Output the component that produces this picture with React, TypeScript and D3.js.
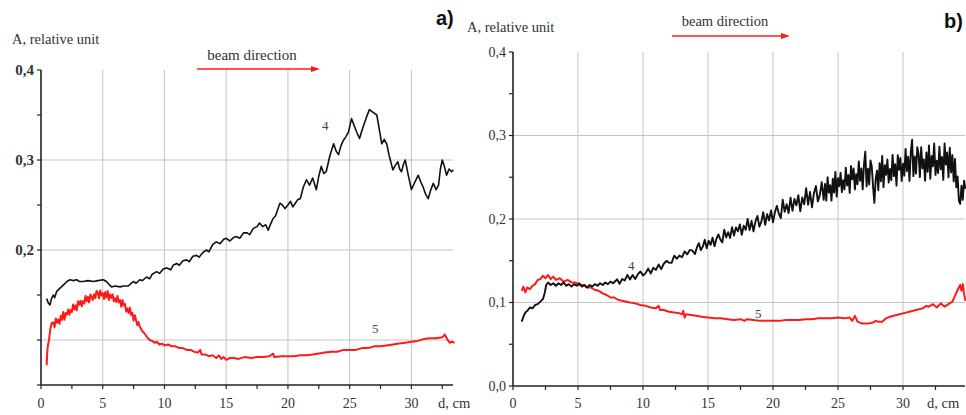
import React from 'react';
import * as d3 from 'd3';

// ---------- data ----------
const X_TICK_VALUES = [0, 5, 10, 15, 20, 25, 30];
const X_TICK_LABELS = ['0', '5', '10', '15', '20', '25', '30'];
const X_GRID = [5, 10, 15, 20, 25, 30];
const Y_GRID = [0.1, 0.2, 0.3];

const A_Y_TICK_VALUES = [0.4, 0.3, 0.2];
const A_Y_TICK_LABELS = ['0,4', '0,3', '0,2'];
const B_Y_TICK_VALUES = [0.4, 0.3, 0.2, 0.1, 0.0];
const B_Y_TICK_LABELS = ['0,4', '0,3', '0,2', '0,1', '0,0'];

// panel a) curve 4 (black)
const A4: [number, number][] = [
  [0.46, 0.146], [0.6, 0.141], [0.73, 0.139], [0.85, 0.146], [1.0, 0.150], [1.1, 0.147], [1.27, 0.154],
  [1.5, 0.157], [1.8, 0.161], [2.1, 0.165], [2.35, 0.167], [2.6, 0.166], [2.89, 0.167], [3.1, 0.165],
  [3.43, 0.165], [3.8, 0.166], [4.24, 0.165], [4.6, 0.166], [5.05, 0.167], [5.3, 0.165], [5.5, 0.162],
  [5.72, 0.159], [6.0, 0.160], [6.4, 0.159], [6.7, 0.160], [7.07, 0.160], [7.3, 0.163], [7.47, 0.165],
  [7.7, 0.163], [8.0, 0.167], [8.2, 0.166], [8.56, 0.170], [8.8, 0.168], [9.0, 0.173], [9.37, 0.176],
  [9.6, 0.174], [9.9, 0.179], [10.2, 0.180], [10.5, 0.178], [10.7, 0.183], [11.0, 0.185], [11.2, 0.183],
  [11.5, 0.188], [11.8, 0.189], [12.0, 0.187], [12.3, 0.193], [12.6, 0.194], [12.8, 0.192], [13.1, 0.197],
  [13.4, 0.200], [13.6, 0.198], [13.9, 0.206], [14.2, 0.209], [14.5, 0.207], [14.8, 0.212], [15.0, 0.213],
  [15.3, 0.210], [15.6, 0.214], [15.8, 0.215], [16.1, 0.213], [16.4, 0.219], [16.7, 0.219], [16.9, 0.217],
  [17.2, 0.224], [17.5, 0.226], [17.7, 0.230], [17.95, 0.226], [18.2, 0.228], [18.4, 0.222], [18.6, 0.229],
  [18.8, 0.235], [19.0, 0.238], [19.35, 0.252], [19.55, 0.250], [19.76, 0.246], [20.0, 0.250], [20.2, 0.254],
  [20.4, 0.248], [20.6, 0.252], [20.8, 0.256], [21.0, 0.257], [21.25, 0.270], [21.5, 0.278], [21.75, 0.272],
  [22.0, 0.280], [22.3, 0.267], [22.5, 0.282], [22.7, 0.293], [22.9, 0.285], [23.1, 0.287], [23.4, 0.305],
  [23.7, 0.318], [23.9, 0.310], [24.1, 0.306], [24.3, 0.316], [24.5, 0.322], [24.7, 0.326], [24.9, 0.331],
  [25.15, 0.346], [25.4, 0.337], [25.6, 0.330], [25.8, 0.324], [26.0, 0.333], [26.2, 0.341], [26.4, 0.349],
  [26.6, 0.356], [26.9, 0.353], [27.2, 0.350], [27.4, 0.334], [27.6, 0.318], [27.8, 0.323], [28.0, 0.318],
  [28.2, 0.305], [28.5, 0.289], [28.7, 0.294], [28.9, 0.298], [29.05, 0.290], [29.2, 0.287], [29.35, 0.295],
  [29.5, 0.300], [29.75, 0.283], [30.0, 0.267], [30.3, 0.276], [30.55, 0.283], [30.75, 0.276], [30.95, 0.270],
  [31.15, 0.262], [31.36, 0.257], [31.55, 0.266], [31.77, 0.274], [32.0, 0.267], [32.2, 0.272], [32.35, 0.290],
  [32.5, 0.300], [32.65, 0.294], [32.85, 0.283], [33.05, 0.290], [33.25, 0.287], [33.4, 0.289],
];

// panel a) curve 5 (red)
const A5: [number, number][] = [
  [0.46, 0.072], [0.5, 0.085], [0.55, 0.093], [0.65, 0.100], [0.75, 0.112], [0.87, 0.119],
  [1.0, 0.1195], [1.1, 0.1142], [1.2, 0.1239], [1.3, 0.1191], [1.4, 0.1228], [1.5, 0.1180], [1.6, 0.1270],
  [1.7, 0.1225], [1.8, 0.1310], [1.9, 0.1225], [2.0, 0.1300], [2.1, 0.1282], [2.2, 0.1339], [2.3, 0.1281],
  [2.4, 0.1333], [2.5, 0.1310], [2.6, 0.1395], [2.7, 0.1340], [2.8, 0.1385], [2.9, 0.1330], [3.0, 0.1430],
  [3.1, 0.1393], [3.2, 0.1436], [3.3, 0.1374], [3.4, 0.1432], [3.5, 0.1405], [3.6, 0.1488], [3.7, 0.1431],
  [3.8, 0.1479], [3.9, 0.1417], [4.0, 0.1505], [4.1, 0.1476], [4.2, 0.1447], [4.3, 0.1508], [4.4, 0.1464],
  [4.5, 0.1545], [4.6, 0.1527], [4.7, 0.1464], [4.8, 0.1551], [4.9, 0.1493], [5.0, 0.1520], [5.1, 0.1456],
  [5.2, 0.1532], [5.3, 0.1473], [5.4, 0.1544], [5.5, 0.1445], [5.6, 0.1504], [5.7, 0.1468], [5.8, 0.1507],
  [5.9, 0.1431], [6.0, 0.1465], [6.1, 0.1422], [6.2, 0.1489], [6.3, 0.1416], [6.4, 0.1443], [6.5, 0.1370],
  [6.6, 0.1444], [6.7, 0.1383], [6.8, 0.1402], [6.9, 0.1316], [7.0, 0.1350], [7.1, 0.1299], [7.2, 0.1358],
  [7.3, 0.1277], [7.4, 0.1301], [7.5, 0.1215], [7.6, 0.1275], [7.7, 0.1220], [7.8, 0.1165], [7.9, 0.1200],
  [8.0, 0.1150], [8.2, 0.110], [8.4, 0.107], [8.6, 0.103], [8.8, 0.100], [9.0, 0.099], [9.2, 0.097],
  [9.4, 0.098], [9.6, 0.095], [9.8, 0.096], [10.0, 0.094], [10.3, 0.095], [10.6, 0.093], [10.9, 0.093],
  [11.2, 0.091], [11.5, 0.091], [11.8, 0.089], [12.1, 0.089], [12.4, 0.087], [12.7, 0.086], [12.9, 0.089],
  [13.0, 0.084], [13.3, 0.084], [13.6, 0.082], [13.9, 0.083], [14.2, 0.080], [14.4, 0.083], [14.6, 0.079],
  [14.8, 0.081], [15.0, 0.078], [15.3, 0.080], [15.6, 0.080], [16.0, 0.079], [16.5, 0.081], [17.0, 0.080],
  [17.5, 0.081], [18.0, 0.081], [18.5, 0.082], [18.8, 0.085], [18.9, 0.081], [19.5, 0.082], [20.0, 0.082],
  [20.5, 0.082], [21.0, 0.083], [21.5, 0.083], [22.0, 0.084], [22.5, 0.085], [23.0, 0.086], [23.5, 0.087],
  [24.0, 0.087], [24.5, 0.089], [25.0, 0.089], [25.5, 0.089], [26.0, 0.091], [26.5, 0.091], [27.0, 0.093],
  [27.5, 0.093], [28.0, 0.094], [28.5, 0.095], [29.0, 0.096], [29.5, 0.097], [30.0, 0.098], [30.5, 0.099],
  [31.0, 0.101], [31.5, 0.102], [32.0, 0.102], [32.5, 0.103], [32.7, 0.106], [32.9, 0.101], [33.1, 0.097],
  [33.3, 0.098], [33.5, 0.097],
];

// panel b) curve 4 (black)
const B4: [number, number][] = [
  [0.67, 0.077], [0.8, 0.083], [0.95, 0.088], [1.1, 0.090], [1.3, 0.094], [1.5, 0.093], [1.7, 0.097],
  [1.9, 0.098], [2.1, 0.101], [2.3, 0.104], [2.45, 0.112], [2.55, 0.121], [2.7, 0.124], [2.9, 0.121],
  [3.1, 0.123], [3.3, 0.120], [3.5, 0.123], [3.7, 0.121], [3.9, 0.124], [4.1, 0.120], [4.3, 0.122],
  [4.5, 0.119], [4.7, 0.122], [4.9, 0.120], [5.1, 0.123], [5.3, 0.119], [5.5, 0.121], [5.7, 0.118],
  [5.9, 0.121], [6.1, 0.119], [6.3, 0.122], [6.5, 0.120], [6.7, 0.123], [6.9, 0.121], [7.1, 0.124],
  [7.3, 0.122], [7.5, 0.125], [7.7, 0.123], [7.9, 0.126],
  [8.0, 0.1278], [8.2, 0.1224], [8.4, 0.1282], [8.6, 0.1264], [8.8, 0.1330], [9.0, 0.1276], [9.2, 0.1330],
  [9.4, 0.1280], [9.6, 0.1338], [9.8, 0.1372], [10.0, 0.1322], [10.2, 0.1352], [10.4, 0.1406], [10.6, 0.1348],
  [10.8, 0.1416], [11.0, 0.1390], [11.2, 0.1454], [11.4, 0.1400], [11.6, 0.1464], [11.8, 0.1498], [12.0, 0.1478],
  [12.2, 0.1474], [12.4, 0.1560], [12.6, 0.1524], [12.8, 0.1562], [13.0, 0.1542], [13.2, 0.1612], [13.4, 0.1576],
  [13.6, 0.1630], [13.8, 0.1622],
  [14.0, 0.1580], [14.15, 0.1662], [14.3, 0.1711], [14.45, 0.1627], [14.6, 0.1669], [14.75, 0.1751],
  [14.9, 0.1650], [15.05, 0.1741], [15.2, 0.1690], [15.35, 0.1776], [15.5, 0.1675], [15.65, 0.1763],
  [15.8, 0.1816], [15.95, 0.1755], [16.1, 0.1720], [16.25, 0.1873], [16.4, 0.1778], [16.55, 0.1842],
  [16.7, 0.1774], [16.85, 0.1903], [17.0, 0.1802], [17.15, 0.1900], [17.3, 0.1852], [17.45, 0.1935],
  [17.6, 0.1810], [17.75, 0.1921], [17.9, 0.1870], [18.05, 0.2000], [18.2, 0.1867], [18.35, 0.1976],
  [18.5, 0.1851], [18.65, 0.1970], [18.8, 0.2036], [18.95, 0.1908], [19.1, 0.1965], [19.25, 0.2082],
  [19.4, 0.1931], [19.55, 0.2059], [19.7, 0.1983], [19.85, 0.2103], [20.0, 0.1960], [20.15, 0.2082],
  [20.3, 0.2157], [20.45, 0.2064], [20.6, 0.2011], [20.75, 0.2230], [20.9, 0.2087], [21.05, 0.2177],
  [21.2, 0.2071], [21.35, 0.2255], [21.5, 0.2098], [21.65, 0.2240], [21.8, 0.2163], [21.95, 0.2285],
  [22.1, 0.2092], [22.25, 0.2257], [22.4, 0.2176], [22.55, 0.2369], [22.7, 0.2171], [22.85, 0.2325],
  [23.0, 0.2140], [23.15, 0.2307], [23.3, 0.2395], [23.45, 0.2211], [23.6, 0.2286], [23.75, 0.2440],
  [23.9, 0.2229],
  [24.0, 0.2420], [24.1, 0.2220], [24.2, 0.2500], [24.3, 0.2316], [24.4, 0.2404], [24.5, 0.2220],
  [24.6, 0.2484], [24.7, 0.2316], [24.8, 0.2564], [24.9, 0.2268], [25.0, 0.2488], [25.1, 0.2393],
  [25.2, 0.2553], [25.3, 0.2322], [25.4, 0.2465], [25.5, 0.2353], [25.6, 0.2615], [25.7, 0.2401],
  [25.8, 0.2527], [25.9, 0.2313], [26.0, 0.2634], [26.1, 0.2475], [26.2, 0.2604], [26.3, 0.2355],
  [26.4, 0.2538], [26.5, 0.2415], [26.6, 0.2688], [26.7, 0.2457], [26.8, 0.2604], [26.9, 0.2355],
  [27.0, 0.2653], [27.1, 0.2807], [27.2, 0.2391], [27.3, 0.2602], [27.4, 0.2414], [27.5, 0.2701],
  [27.6, 0.2627], [27.7, 0.2382], [27.8, 0.2194], [27.9, 0.2481], [28.0, 0.2580], [28.1, 0.2344],
  [28.2, 0.2668], [28.3, 0.2452], [28.4, 0.2756], [28.5, 0.2380], [28.6, 0.2644], [28.7, 0.2528],
  [28.8, 0.2712], [28.9, 0.2436], [29.0, 0.2600], [29.1, 0.2464], [29.2, 0.2768], [29.3, 0.2512],
  [29.4, 0.2656], [29.5, 0.2400], [29.6, 0.2764], [29.7, 0.2588], [29.8, 0.2732], [29.9, 0.2456],
  [30.0, 0.2662], [30.1, 0.2520], [30.2, 0.2840], [30.3, 0.2572], [30.4, 0.2745], [30.5, 0.2456],
  [30.6, 0.2797], [30.7, 0.2949], [30.8, 0.2513], [30.9, 0.2749], [31.0, 0.2544], [31.1, 0.2859],
  [31.2, 0.2775], [31.3, 0.2502], [31.4, 0.2859], [31.5, 0.2607], [31.6, 0.2712], [31.7, 0.2460],
  [31.8, 0.2796], [31.9, 0.2565], [32.0, 0.2880], [32.1, 0.2482], [32.2, 0.2756], [32.3, 0.2631],
  [32.4, 0.2905], [32.5, 0.2528], [32.6, 0.2697], [32.7, 0.2551], [32.8, 0.2867], [32.9, 0.2595],
  [33.0, 0.2743], [33.1, 0.2468], [33.2, 0.2906], [33.3, 0.2652], [33.4, 0.2796], [33.5, 0.2500],
  [33.6, 0.2854], [33.7, 0.2558], [33.8, 0.2765], [33.9, 0.2450], [34.0, 0.2720], [34.1, 0.2380],
  [34.2, 0.2510], [34.3, 0.2220], [34.4, 0.2180], [34.5, 0.2400], [34.6, 0.2230], [34.7, 0.2460],
  [34.8, 0.2360],
];

// panel b) curve 5 (red)
const B5: [number, number][] = [
  [0.67, 0.114], [0.8, 0.119], [0.95, 0.112], [1.1, 0.118], [1.3, 0.116], [1.5, 0.120], [1.7, 0.122],
  [1.9, 0.127], [2.1, 0.128], [2.3, 0.132], [2.5, 0.129], [2.7, 0.133], [2.9, 0.128], [3.1, 0.131],
  [3.3, 0.127], [3.6, 0.129], [3.9, 0.125], [4.2, 0.127], [4.5, 0.124], [4.8, 0.124], [5.1, 0.121],
  [5.4, 0.121], [5.7, 0.118], [6.0, 0.118], [6.3, 0.115], [6.6, 0.114], [6.9, 0.111], [7.2, 0.109],
  [7.5, 0.106], [7.8, 0.106], [8.1, 0.103], [8.4, 0.102], [8.7, 0.101], [9.0, 0.100], [9.4, 0.099],
  [9.8, 0.097], [10.2, 0.096], [10.6, 0.094], [11.0, 0.093], [11.2, 0.096], [11.3, 0.091], [11.6, 0.091],
  [12.0, 0.089], [12.4, 0.088], [12.8, 0.087], [13.0, 0.086], [13.1, 0.090], [13.2, 0.082], [13.3, 0.086],
  [13.7, 0.085], [14.1, 0.084], [14.5, 0.083], [15.0, 0.082], [15.5, 0.081], [16.0, 0.081], [16.5, 0.080],
  [17.0, 0.079], [17.5, 0.080], [17.8, 0.078], [18.0, 0.080], [18.5, 0.079], [19.0, 0.078], [19.5, 0.078],
  [20.0, 0.078], [20.5, 0.078], [21.0, 0.079], [21.5, 0.079], [22.0, 0.079], [22.5, 0.080], [23.0, 0.080],
  [23.5, 0.081], [24.0, 0.081], [24.5, 0.081], [25.0, 0.082], [25.5, 0.081], [25.9, 0.082], [26.1, 0.078],
  [26.3, 0.084], [26.5, 0.077], [26.8, 0.075], [27.1, 0.075], [27.4, 0.075], [27.7, 0.076], [27.9, 0.078],
  [28.1, 0.077], [28.4, 0.077], [28.7, 0.081], [29.0, 0.083], [29.5, 0.085], [30.0, 0.087], [30.5, 0.089],
  [31.0, 0.091], [31.5, 0.093], [31.8, 0.096], [32.0, 0.095], [32.3, 0.098], [32.6, 0.094], [32.9, 0.099],
  [33.2, 0.095], [33.5, 0.098], [33.8, 0.101], [34.0, 0.108], [34.2, 0.115], [34.4, 0.121], [34.5, 0.114],
  [34.6, 0.122], [34.7, 0.110], [34.8, 0.102],
];

// ---------- drawing ----------
const SERIF = '"Liberation Serif", "DejaVu Serif", "Times New Roman", Times, serif';
const SANS = '"Liberation Sans", Arial, Helvetica, sans-serif';
const GRID = '#c4c4c4';
const RED = '#ff1a1a';

type PanelProps = {
  x0: number; x1: number; xMax: number;
  yTop: number; yBottom: number; yMin: number; yMax: number;
  yTicks: number[]; yLabels: string[]; yBold: boolean;
  black: [number, number][]; red: [number, number][];
  redWidth: number; blackWidth: number;
};

function Panel(p: PanelProps) {
  const x = d3.scaleLinear().domain([0, p.xMax]).range([p.x0, p.x1]);
  const y = d3.scaleLinear().domain([p.yMin, p.yMax]).range([p.yBottom, p.yTop]);
  const line = d3.line<[number, number]>().x(d => x(d[0])).y(d => y(d[1]));
  const xMinor = d3.range(0, p.xMax, 2.5);
  const yMinor = d3.range(0, 0.4001, 0.05).filter(v => v >= p.yMin - 1e-9);
  return (
    <g>
      {X_GRID.map(v => (
        <line key={'vg' + v} x1={x(v)} x2={x(v)} y1={p.yTop} y2={p.yBottom} stroke={GRID} strokeWidth={1} />
      ))}
      {Y_GRID.map(v => (
        <line key={'hg' + v} x1={p.x0} x2={p.x1} y1={y(v)} y2={y(v)} stroke={GRID} strokeWidth={1} />
      ))}
      <path d={line(p.red) || ''} fill="none" stroke={RED} strokeWidth={p.redWidth} strokeLinejoin="round" />
      <path d={line(p.black) || ''} fill="none" stroke="#111" strokeWidth={p.blackWidth} strokeLinejoin="round" />
      <line x1={p.x0} x2={p.x0} y1={p.yTop} y2={p.yBottom} stroke="#222" strokeWidth={1.6} />
      <line x1={p.x0} x2={p.x1} y1={p.yBottom} y2={p.yBottom} stroke="#222" strokeWidth={1.6} />
      {yMinor.map(v => (
        <line key={'yt' + v} x1={p.x0 - 4} x2={p.x0} y1={y(v)} y2={y(v)} stroke="#222" strokeWidth={1.2} />
      ))}
      {xMinor.map(v => (
        <line key={'xt' + v} x1={x(v)} x2={x(v)} y1={p.yBottom} y2={p.yBottom + 4} stroke="#222" strokeWidth={1.2} />
      ))}
      {p.yTicks.map((v, i) => (
        <text key={'yl' + v} x={p.x0 - 7} y={y(v) + 4.5} textAnchor="end"
          style={{ fontFamily: SERIF, fontSize: p.yBold ? 15 : 14, fontWeight: p.yBold ? 'bold' : 'normal' }}
          fill="#333">{p.yLabels[i]}</text>
      ))}
      {X_TICK_VALUES.map((v, i) => (
        <text key={'xl' + v} x={x(v)} y={408} textAnchor="middle" style={{ fontFamily: SERIF, fontSize: 14 }} fill="#333">
          {X_TICK_LABELS[i]}
        </text>
      ))}
    </g>
  );
}

function Arrow({ x1, x2, yy }: { x1: number; x2: number; yy: number }) {
  return (
    <g>
      <line x1={x1} x2={x2 - 6} y1={yy} y2={yy} stroke={RED} strokeWidth={1.6} />
      <path d={`M${x2},${yy} L${x2 - 9},${yy - 3} L${x2 - 9},${yy + 3} Z`} fill={RED} />
    </g>
  );
}

const serifText = (size: number) => ({ fontFamily: SERIF, fontSize: size });

export default function App() {
  return (
    <svg width={966} height={415} style={{ position: 'absolute', left: 0, top: 0, background: '#fff' }}>
      <rect x={0} y={0} width={966} height={415} fill="#fff" />
      <Panel x0={41} x1={453} xMax={33.37} yTop={70} yBottom={385} yMin={0.05} yMax={0.4}
        yTicks={A_Y_TICK_VALUES} yLabels={A_Y_TICK_LABELS} yBold={true}
        black={A4} red={A5} redWidth={2} blackWidth={1.6} />
      <Panel x0={513} x1={965} xMax={34.77} yTop={52} yBottom={386} yMin={0} yMax={0.4}
        yTicks={B_Y_TICK_VALUES} yLabels={B_Y_TICK_LABELS} yBold={false}
        black={B4} red={B5} redWidth={2} blackWidth={1.9} />

      <text x={12} y={44} style={serifText(14.5)} fill="#333">A, relative unit</text>
      <text x={252} y={60} textAnchor="middle" style={serifText(15)} fill="#333">beam direction</text>
      <Arrow x1={197} x2={320} yy={69} />
      <text x={436} y={25} style={{ fontFamily: SANS, fontSize: 20, fontWeight: 'bold' }} fill="#111">a)</text>
      <text x={438} y={408} style={serifText(14.5)} fill="#333">d, cm</text>
      <text x={322} y={130} style={serifText(13)} fill="#444">4</text>
      <text x={372} y={333} style={serifText(13)} fill="#444">5</text>

      <text x={467} y={32} style={serifText(14.5)} fill="#333">A, relative unit</text>
      <text x={725} y={26} textAnchor="middle" style={serifText(14.5)} fill="#333">beam direction</text>
      <Arrow x1={672} x2={790} yy={36} />
      <text x={944} y={28} style={{ fontFamily: SANS, fontSize: 20, fontWeight: 'bold' }} fill="#111">b)</text>
      <text x={927} y={408} style={serifText(14.5)} fill="#333">d, cm</text>
      <text x={628} y={270} style={serifText(13)} fill="#444">4</text>
      <text x={755} y={318} style={serifText(13)} fill="#444">5</text>
    </svg>
  );
}
